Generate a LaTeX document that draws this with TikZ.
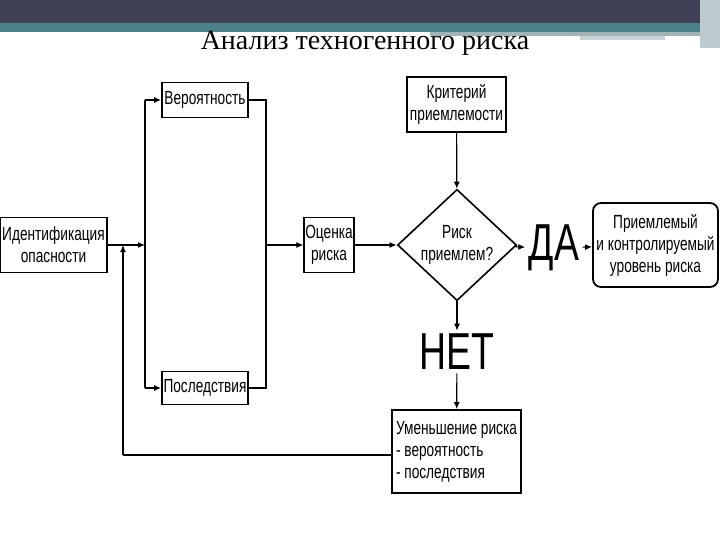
\documentclass[tikz,border=0pt]{standalone}
\usepackage{fontspec}
\setmainfont{Liberation Serif}
\newfontfamily\narrow{Liberation Sans}[FakeStretch=0.72]
\usetikzlibrary{shapes.geometric, arrows.meta, positioning}
\definecolor{slate}{RGB}{62,66,84}
\definecolor{teal}{RGB}{74,128,134}
\definecolor{stripe}{RGB}{160,180,184}
\tikzset{
  box/.style={draw, line width=1.8pt, inner sep=1pt, align=center, font=\narrow\fontsize{19}{22}\selectfont},
  big/.style={font=\narrow\fontsize{52}{52}\selectfont},
  arr/.style={-{Latex[length=7pt,width=6pt]}, line width=1.2pt},
  ln/.style={line width=1.2pt}
}
\begin{document}
\begin{tikzpicture}[x=1pt,y=-1pt]
        \useasboundingbox (0,0) rectangle (720,540);
        % header
        \fill[slate] (0,0) rectangle (720,23);
        \fill[teal] (0,23) rectangle (720,32);
        \fill[stripe] (430,32) rectangle (720,36);
        \fill[stripe!60] (580,36) rectangle (665,40);
        \fill[stripe!70] (700,0) rectangle (720,48);
        \node[font=\fontsize{28}{30}\selectfont] (title) at (365,43) {Анализ техногенного риска};

        % Draw the nodes
        \node[box, minimum width=107pt, minimum height=55pt] (ident) at (53.5,245) {Идентификация\\опасности};
        \node[box, minimum width=86pt, minimum height=35pt] (prob) at (205,100) {Вероятность};
        \node[box, minimum width=86pt, minimum height=33pt] (cons) at (205,388) {Последствия};
        \node[box, minimum width=48pt, minimum height=55pt] (eval) at (329,245) {Оценка\\риска};
        \node[box, minimum width=99pt, minimum height=55pt] (crit) at (456.5,104.5) {Критерий\\приемлемости};
        \node[box, diamond, line width=1.6pt, minimum width=119pt, minimum height=104pt, inner sep=0pt] (ask) at (457,245) {Риск\\приемлем?};
        \node[big] (yes) at (554,248) {ДА};
        \node[box, rounded corners=8pt, minimum width=125pt, minimum height=84pt] (ok) at (655.5,245) {Приемлемый\\и контролируемый\\уровень риска};
        \node[big] (no) at (457,352) {НЕТ};
        \node[box, align=left, minimum width=129pt, minimum height=83pt] (reduce) at (456.5,451.5) {Уменьшение риска\\- вероятность\\- последствия};
        \coordinate (lbus) at (145,245);
        \coordinate (rbus) at (266,245);
        \coordinate (back) at (123,455);

        % Draw the arrows
        \draw[arr] (ident) -- (lbus);
        \draw[arr] (lbus |- prob) -- (prob);
        \draw[arr] (lbus |- cons) -- (cons);
        \draw[ln] (lbus |- prob) -- (lbus |- cons);
        \draw[ln] (prob) -- (rbus |- prob) -- (rbus |- cons) -- (cons);
        \draw[arr] (rbus) -- (eval);
        \draw[arr] (eval) -- (ask);
        \draw[arr] (crit) -- (ask);
        \draw[arr] (ask) -- (yes);
        \draw[arr] (yes) -- (ok);
        \draw[arr] (ask) -- (no);
        \draw[arr] (no) -- (reduce);
        \draw[ln, line width=1.8pt] (reduce.west |- back) -- (back);
        \draw[arr] (back) -- (back |- ident.east);
\end{tikzpicture}
\end{document}
